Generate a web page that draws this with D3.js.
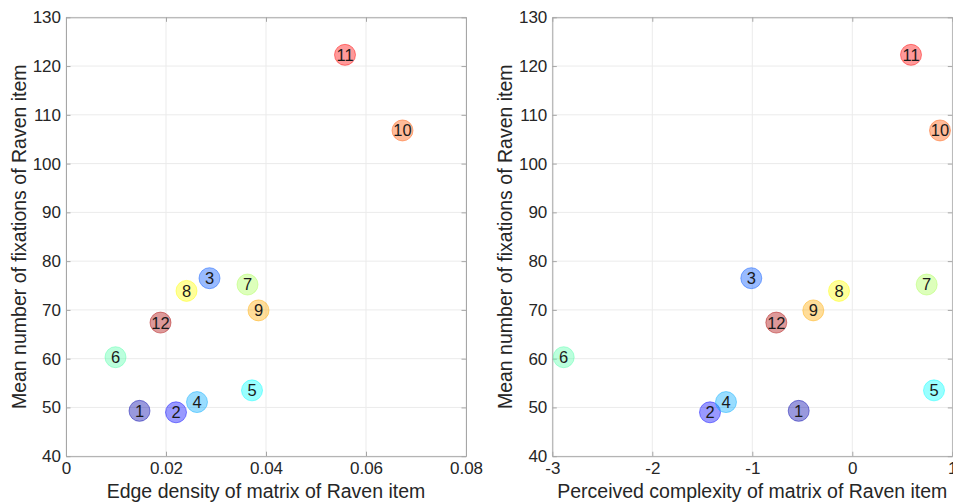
<!DOCTYPE html>
<html>
<head>
<meta charset="utf-8">
<script src="https://cdn.jsdelivr.net/npm/d3@7"></script>
<style>
  body { margin: 0; background: #fff; }
  svg { display: block; font-family: "Liberation Sans", Arial, Helvetica, sans-serif; }
</style>
</head>
<body>
<div id="chart"></div>
<script>
// Raven items 1..12
const items = [1, 2, 3, 4, 5, 6, 7, 8, 9, 10, 11, 12];
const edgeDensity = [0.0147, 0.0220, 0.0287, 0.0262, 0.0372, 0.0099, 0.0363, 0.0241, 0.0385, 0.0673, 0.0558, 0.0189];
const complexity = [-0.536, -1.423, -1.010, -1.263, 0.817, -2.886, 0.744, -0.133, -0.390, 0.877, 0.587, -0.760];
const fixations = [49.3, 49.0, 76.5, 51.1, 53.5, 60.3, 75.2, 73.9, 69.9, 106.8, 122.3, 67.4];

const edgeTicks = [0, 0.02, 0.04, 0.06, 0.08];
const complexTicks = [-3, -2, -1, 0, 1];
const fixTicks = [40, 50, 60, 70, 80, 90, 100, 110, 120, 130];

// jet(12)
const jet = ['#0000aa', '#0000ff', '#0055ff', '#00aaff', '#00ffff', '#55ffaa',
             '#aaff55', '#ffff00', '#ffaa00', '#ff5500', '#ff0000', '#aa0000'];

const width = 953;
const height = 504;

const svg = d3.select('#chart')
  .append('svg')
  .attr('width', width)
  .attr('height', height)
  .attr('viewBox', [0, 0, width, height]);

const mt = 17.3, gh = 438.9, gw = 400;

function panel(left, xs, xDomain, xTicks, xFmt, xLabel) {
  const x = d3.scaleLinear().domain(xDomain).range([0, gw]);
  const y = d3.scaleLinear().domain([40, 130]).range([gh, 0]);

  const g = svg.append('g').attr('transform', `translate(${left},${mt})`);

  // grid
  g.append('g').selectAll('line')
    .data(xTicks)
    .join('line')
    .attr('x1', d => x(d)).attr('x2', d => x(d))
    .attr('y1', 0).attr('y2', gh)
    .attr('stroke', '#ebebeb');
  g.append('g').selectAll('line')
    .data(fixTicks)
    .join('line')
    .attr('y1', d => y(d)).attr('y2', d => y(d))
    .attr('x1', 0).attr('x2', gw)
    .attr('stroke', '#ebebeb');

  // axes (inward ticks, box)
  const xAxis = g.append('g').attr('transform', `translate(0,${gh})`)
    .call(d3.axisBottom(x).tickValues(xTicks).tickFormat(xFmt).tickSizeInner(-4.5).tickSizeOuter(0).tickPadding(6));
  const xTop = g.append('g')
    .call(d3.axisTop(x).tickValues(xTicks).tickFormat('').tickSizeInner(-4.5).tickSizeOuter(0));
  const yAxis = g.append('g')
    .call(d3.axisLeft(y).tickValues(fixTicks).tickSizeInner(-4.5).tickSizeOuter(0).tickPadding(5));
  const yRight = g.append('g').attr('transform', `translate(${gw},0)`)
    .call(d3.axisRight(y).tickValues(fixTicks).tickFormat('').tickSizeInner(-4.5).tickSizeOuter(0));

  [xAxis, xTop, yAxis, yRight].forEach(a => {
    a.select('.domain').attr('stroke', '#a6a6a6');
    a.selectAll('.tick line').attr('stroke', '#a6a6a6');
    a.selectAll('.tick text').attr('fill', '#262626').style('font-size', '17px')
      .style('font-family', '"Liberation Sans", Arial, sans-serif');
  });

  g.append('text')
    .attr('x', gw / 2)
    .attr('y', gh + 42)
    .attr('text-anchor', 'middle')
    .attr('fill', '#262626')
    .style('font-size', '19.5px')
    .text(xLabel);

  g.append('text')
    .attr('transform', `translate(-40,${gh / 2}) rotate(-90)`)
    .attr('text-anchor', 'middle')
    .attr('fill', '#262626')
    .style('font-size', '19.5px')
    .text('Mean number of fixations of Raven item');

  const pts = g.append('g').selectAll('g')
    .data(items)
    .join('g')
    .attr('transform', (d, i) => `translate(${x(xs[i])},${y(fixations[i])})`);

  pts.append('circle')
    .attr('r', 10.5)
    .attr('fill', (d, i) => jet[i])
    .attr('fill-opacity', 0.4)
    .attr('stroke', (d, i) => jet[i])
    .attr('stroke-opacity', 0.45)
    .attr('stroke-width', 1);

  pts.append('text')
    .attr('text-anchor', 'middle')
    .attr('dy', '0.36em')
    .attr('fill', '#1a1a1a')
    .style('font-size', '16.5px')
    .text(d => d);
}

panel(66, edgeDensity, [0, 0.08], edgeTicks, d => String(d), 'Edge density of matrix of Raven item');
panel(552.3, complexity, [-3, 1], complexTicks, d => String(d), 'Perceived complexity of matrix of Raven item');
</script>
</body>
</html>
